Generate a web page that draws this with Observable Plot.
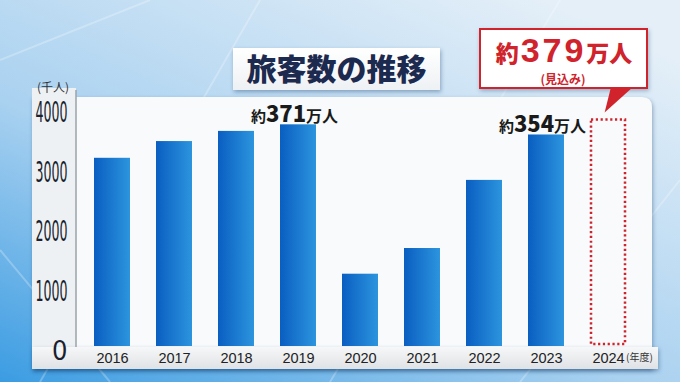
<!DOCTYPE html>
<html><head><meta charset="utf-8">
<script src="https://cdn.jsdelivr.net/npm/d3@7"></script>
<script src="https://cdn.jsdelivr.net/npm/@observablehq/plot@0.6"></script>
<style>
body{margin:0;width:680px;height:382px;overflow:hidden;background:#cfe4f5}
#chart svg{display:block}
</style>
</head><body><div id="chart"></div>
<script>
// ---- data ----
const years = ["2016","2017","2018","2019","2020","2021","2022","2023"];
const passengers = [3150, 3430, 3600, 3710, 1210, 1640, 2780, 3540]; // 千人
const forecastYear = "2024";
const forecastValue = 3790;
const yTicks = [0, 1000, 2000, 3000, 4000];
const annotYears = ["2019", "2023"];
const annotValues = [3710, 3540];
const annotLabels = ["371", "354"];
const titleText = "旅客数の推移";
const unitLabel = "(千人)";
const xUnitLabel = "(年度)";
const forecastLabel = "379";
const forecastNote = "(見込み)";

const data = years.map((y, i) => ({year: y, value: passengers[i]}));
const forecast = [{year: forecastYear, value: forecastValue}];
const annots = annotYears.map((y, i) => ({year: y, value: annotValues[i], label: annotLabels[i]}));

const JP = "'Noto Sans CJK JP', 'Noto Sans', sans-serif";
const RED = "#d0232c";

const plot = Plot.plot({
  width: 680, height: 382,
  marginLeft: 67, marginRight: 27, marginTop: 107, marginBottom: 36,
  style: {background: "transparent", overflow: "visible"},
  x: {domain: [...years, forecastYear], padding: 0.42, label: null},
  y: {domain: [0, 4000], label: null},
  marks: [
    Plot.barY(data, {x: "year", y: "value", fill: "url(#barGrad)"}),
    Plot.barY(forecast, {x: "year", y: "value", fill: "none", stroke: RED, strokeWidth: 2.5, strokeDasharray: "2.2,2.6", insetLeft: 1, insetRight: 1, insetBottom: 2}),
    Plot.axisY({ticks: yTicks, tickFormat: d => String(d), tickSize: 0, tickPadding: 0, fontSize: 29, dy: 5, fontFamily: "'Liberation Sans Narrow','DejaVu Sans Condensed',sans-serif", fill: "#1b1f2e", label: null}),
    Plot.axisX({tickSize: 0, tickPadding: 6, fontSize: 14.5, fontFamily: "'Liberation Sans', Arial, sans-serif", fill: "#222", label: null}),
    Plot.text(annots, {x: "year", y: "value", text: "label", lineAnchor: "bottom", dy: -3, dx: -4, fontSize: 22, fontWeight: 900, fontFamily: JP, fill: "#1a1a1a"})
  ]
});
document.getElementById("chart").appendChild(plot);

const svg = d3.select(plot);

// locate the forecast band through the rendered dotted bar
const fRect = svg.selectAll('g[aria-label="bar"]').filter((d, i) => i === 1).select("rect").node();
const fb = fRect.getBBox();

// defs
const defs = svg.insert("defs", ":first-child");
const bg = defs.append("linearGradient").attr("id", "barGrad").attr("x1", 0).attr("x2", 1).attr("y1", 0).attr("y2", 0);
bg.append("stop").attr("offset", 0).attr("stop-color", "#0a5ec1");
bg.append("stop").attr("offset", 1).attr("stop-color", "#2c95de");
const bk = defs.append("linearGradient").attr("id", "bgGrad").attr("x1", 0).attr("y1", 1).attr("x2", 0.8).attr("y2", 0);
bk.append("stop").attr("offset", 0).attr("stop-color", "#3b9ce2");
bk.append("stop").attr("offset", 0.45).attr("stop-color", "#a9d1f0");
bk.append("stop").attr("offset", 1).attr("stop-color", "#e4eff8");
const sg = defs.append("linearGradient").attr("id", "stripGrad").attr("x1", 0).attr("y1", 0).attr("x2", 0).attr("y2", 1);
sg.append("stop").attr("offset", 0).attr("stop-color", "#f6f7f8");
sg.append("stop").attr("offset", 1).attr("stop-color", "#dfe2e5");
const tg = defs.append("linearGradient").attr("id", "titleGrad").attr("x1", 0).attr("y1", 0).attr("x2", 0).attr("y2", 1);
tg.append("stop").attr("offset", 0).attr("stop-color", "#ffffff");
tg.append("stop").attr("offset", 1).attr("stop-color", "#eef1f4");

// background decorations (behind marks)
const back = svg.insert("g", "defs + *");
back.append("rect").attr("x", 0).attr("y", 0).attr("width", 680).attr("height", 382).attr("fill", "url(#bgGrad)");
[[0,60,150,0],[40,382,260,0],[330,382,560,0],[520,382,680,180],[0,250,110,382]].forEach(([a,b,c,d]) =>
  back.append("line").attr("x1", a).attr("y1", b).attr("x2", c).attr("y2", d).attr("stroke", "#fff").attr("stroke-opacity", 0.25).attr("stroke-width", 2));
back.append("path")
  .attr("d", "M32,97 H642 Q652,97 652,107 V369 H32 Z")
  .attr("fill", "#f8fafb").style("filter", "drop-shadow(1px 2px 2px rgba(0,40,90,0.35))");
back.append("rect").attr("x", 32).attr("y", 88).attr("width", 44).attr("height", 262).attr("fill", "#eef1f4");
back.append("rect").attr("x", 32).attr("y", 347).attr("width", 626).attr("height", 22).attr("fill", "url(#stripGrad)")
  .style("filter", "drop-shadow(1px 2px 2px rgba(0,40,90,0.35))");
back.append("line").attr("x1", 76).attr("x2", 76).attr("y1", 90).attr("y2", 347).attr("stroke", "#9aa3ab").attr("stroke-width", 1.5);

// y tick labels: condensed digits
svg.selectAll('g[aria-label="y-axis tick label"] text').each(function() {
  const t = d3.select(this);
  const s = t.text();
  if (s.length > 1) t.attr("textLength", s.length * 8).attr("lengthAdjust", "spacingAndGlyphs");
  else t.attr("font-size", 27);
});

// annotation labels: 約 + number + 万人
svg.selectAll('g[aria-label="text"] text').each(function() {
  const t = d3.select(this);
  const s = t.text();
  t.text(null);
  t.append("tspan").attr("font-size", 15).attr("font-weight", 700).text("約");
  t.append("tspan").text(s);
  t.append("tspan").attr("font-size", 16).attr("font-weight", 700).text("万人");
});

// unit labels
svg.append("text").attr("x", 53).attr("y", 92).attr("text-anchor", "middle").attr("font-family", JP)
  .attr("font-size", 12).attr("fill", "#333").text(unitLabel);
svg.append("text").attr("x", fb.x + fb.width + 1).attr("y", 361).attr("text-anchor", "start").attr("font-family", JP)
  .attr("font-size", 10).attr("fill", "#333").text(xUnitLabel);

// title box
svg.append("rect").attr("x", 233).attr("y", 48).attr("width", 207).attr("height", 42).attr("fill", "url(#titleGrad)")
  .style("filter", "drop-shadow(1px 2px 2px rgba(0,40,90,0.35))");
svg.append("text").attr("x", 336.5).attr("y", 80).attr("text-anchor", "middle").attr("font-family", JP)
  .attr("font-size", 30).attr("font-weight", 900).attr("fill", "#1c2a4f").text(titleText);

// forecast callout
const tipX = fb.x + fb.width * 0.4;
const tipY = fb.y - 7;
const call = svg.append("g");
call.append("rect").attr("x", 480).attr("y", 29).attr("width", 167).attr("height", 59)
  .attr("fill", "#fff").attr("stroke", RED).attr("stroke-width", 2)
  .style("filter", "drop-shadow(1px 2px 2px rgba(0,40,90,0.3))");
call.append("path").attr("d", `M611,87 L633,87 L${tipX},${tipY} Z`).attr("fill", RED);
call.append("rect").attr("x", 613).attr("y", 84).attr("width", 17).attr("height", 3).attr("fill", "#fff");
const ct = call.append("text").attr("x", 564).attr("y", 62).attr("text-anchor", "middle").attr("font-family", JP)
  .attr("fill", RED).attr("font-weight", 900);
ct.append("tspan").attr("font-size", 23).text("約");
ct.append("tspan").attr("font-size", 34).attr("font-family", "'Liberation Sans', Arial, sans-serif").attr("font-weight", 700)
  .attr("letter-spacing", 3).attr("dx", 2).text(forecastLabel);
ct.append("tspan").attr("font-size", 23).text("万人");
call.append("text").attr("x", 563).attr("y", 84).attr("text-anchor", "middle").attr("font-family", JP)
  .attr("fill", RED).attr("font-size", 12).attr("font-weight", 700).text(forecastNote);
</script>
</body></html>
